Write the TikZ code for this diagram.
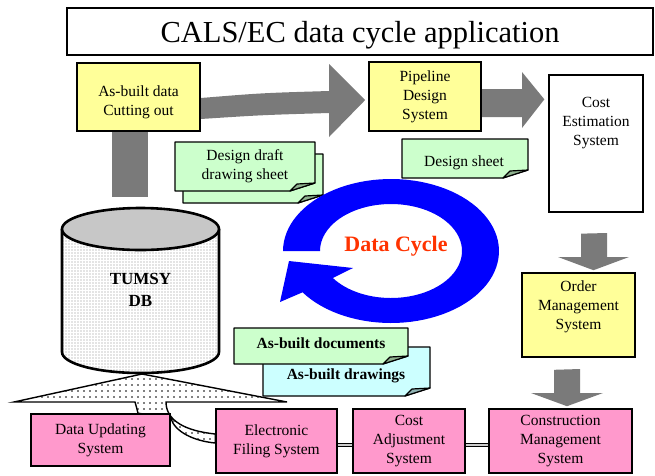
\documentclass[tikz,border=0pt]{standalone}
\usepackage{fontspec}
\setmainfont{Liberation Serif}
\usetikzlibrary{calc,positioning,backgrounds,patterns.meta}

\definecolor{padyellow}{HTML}{FFFF99}
\definecolor{padpink}{HTML}{FF99CC}
\definecolor{padgreen}{HTML}{CCFFCC}
\definecolor{padcyan}{HTML}{CCFFFF}
\definecolor{cyclered}{HTML}{FF3300}

\tikzset{
  box/.style={draw, line width=1.6pt, inner sep=0pt},
  boxtext/.style={align=center, inner sep=0pt, font=\fontsize{15.5}{19}\selectfont},
  doctext/.style={align=center, inner sep=0pt, font=\bfseries\fontsize{15.5}{19}\selectfont},
  flow/.style={fill=black!52},
  sheetline/.style={line width=1.2pt, line join=round},
}

\newcommand\sheetshape[5]{%
  \filldraw[sheetline, fill=#5] (#1,#2) -- (#3,#2) -- (#3,#4-8) -- (#3-25,#4) -- (#1,#4) -- cycle;
  \filldraw[sheetline, fill=#5!70!black] (#3-25,#4) -- (#3-18,#4-7) -- (#3,#4-8) -- cycle;
}

\begin{document}
\begin{tikzpicture}[x=1pt,y=-1pt]
\useasboundingbox (0,0) rectangle (655,475);

\node[box, line width=1.4pt, minimum width=586pt, minimum height=47pt, text depth=0pt,
  font=\fontsize{30.5}{36}\selectfont] (title) at (360,31.5) {CALS/EC data cycle application};

\node[box, fill=padyellow, minimum width=123pt, minimum height=68pt] (asb) at (138.5,97) {};
\node[boxtext] (asb-t) at (138.5,102) {As-built data\\Cutting out};
\node[box, fill=padyellow, minimum width=112pt, minimum height=69pt, boxtext] (pds) at (425,96.5) {Pipeline\\Design\\System};
\node[box, line width=1.3pt, fill=white, minimum width=94pt, minimum height=137pt] (ces) at (596,143.5) {};
\node[boxtext] (ces-t) at (596,123) {Cost\\Estimation\\System};
\node[box, fill=padyellow, minimum width=113pt, minimum height=84pt] (oms) at (578.5,315) {};
\node[boxtext] (oms-t) at (578.5,307) {Order\\Management\\System};

\node[box, fill=padpink, minimum width=139pt, minimum height=52pt, boxtext] (dus) at (100.5,440) {Data Updating\\System};
\node[box, fill=padpink, minimum width=121pt, minimum height=64pt, boxtext] (efs) at (276.5,441) {Electronic\\Filing System};
\node[box, fill=padpink, minimum width=112pt, minimum height=64pt, boxtext] (cas) at (409,441) {Cost\\Adjustment\\System};
\node[box, fill=padpink, minimum width=143pt, minimum height=64pt, boxtext] (cms) at (560.5,441) {Construction\\Management\\System};

\begin{scope}[on background layer]
\fill[flow] ([yshift=-1pt]asb.east) .. controls (262,93) .. (329,91) -- (329,64)
  -- ([xshift=-3pt,yshift=-3.5pt]pds.west) -- (329,137) -- (329,113)
  .. controls (262,115) .. ([yshift=-22pt]asb.east) -- cycle;
\fill[flow] ([yshift=7.5pt]pds.east) -- (522,89) -- (522,72)
  -- ([xshift=-4pt,yshift=-25pt]ces.north west) -- (522,128) -- (522,117)
  -- ([yshift=-20.5pt]pds.east) -- cycle;
\fill[flow] ([xshift=-15pt,yshift=-21pt]ces.south) -- (607,233) -- (607,257) -- (629,257)
  -- ([xshift=15pt,yshift=2pt]oms.north) -- (558,257) -- (581,257) -- cycle;
\fill[flow] ([xshift=-24.5pt,yshift=-12pt]oms.south) -- (580,369) -- (580,393) -- (603,393)
  -- ([xshift=6.5pt,yshift=2pt]cms.north) -- (531,393) -- (554,393) -- cycle;
\fill[flow] ([xshift=-26.5pt]asb.south) rectangle ++(36,65);

\draw[line width=1.4pt, preaction={fill=white}, pattern={Dots[distance=6pt, radius=0.9pt]},
  pattern color=black] (14,402) -- (142,374) -- (287,402) -- (166,402)
  .. controls (166,421) and (186,431) .. ([yshift=7pt]efs.west) -- ([yshift=-2pt]efs.west)
  .. controls (194,441) and (175,432) .. ([yshift=-5pt]dus.north east)
  -- ([xshift=37.5pt]dus.north) .. controls (137,409) .. (135,402) -- cycle;

\draw[line width=0.9pt, double=black!20, double distance=2.4pt] ([yshift=-4pt]efs.east) -- ([yshift=-4pt]cas.west);
\draw[line width=0.9pt, double=black!20, double distance=2.4pt] ([yshift=-4pt]cas.east) -- ([yshift=-4pt]cms.west);
\end{scope}

\sheetshape{183}{154}{323}{203}{padgreen}
\sheetshape{175}{142}{315}{191}{padgreen}
\node[boxtext] (draft) at (245,166) {Design draft\\drawing sheet};
\sheetshape{402}{139}{528}{178}{padgreen}
\node[boxtext] (dsheet) at (464,163) {Design sheet};

\fill[blue] plot[domain=180:505, samples=90] ({391+108*cos(\x)},{251+72*sin(\x)})
  -- (280,302) -- (289,261) -- (353,268)
  -- plot[domain=505:180, samples=90] ({391+71*cos(\x)},{251+47*sin(\x)}) -- cycle;
\node[anchor=base, text=cyclered, font=\bfseries\fontsize{22}{26}\selectfont] (cycle) at (396,251) {Data Cycle};

\draw[line width=2.6pt, preaction={fill=white}, pattern={Dots[distance=3pt, radius=0.55pt]},
  pattern color=black!45] (62,229) -- (62,352) arc[start angle=180, end angle=0, x radius=78.5, y radius=21] -- (219,229);
\filldraw[line width=2.6pt, fill=black!22] (140.5,229) ellipse[x radius=78.5, y radius=21];
\node[align=center, font=\bfseries\fontsize{17}{22}\selectfont] (tumsy) at (140.5,290) {TUMSY\\DB};

\sheetshape{263}{347}{430}{396}{padcyan}
\sheetshape{234}{328}{408}{364}{padgreen}
\node[doctext] (abdoc) at (321,343) {As-built documents};
\node[doctext] (abdrw) at (346,376) {As-built drawings};

\end{tikzpicture}
\end{document}
